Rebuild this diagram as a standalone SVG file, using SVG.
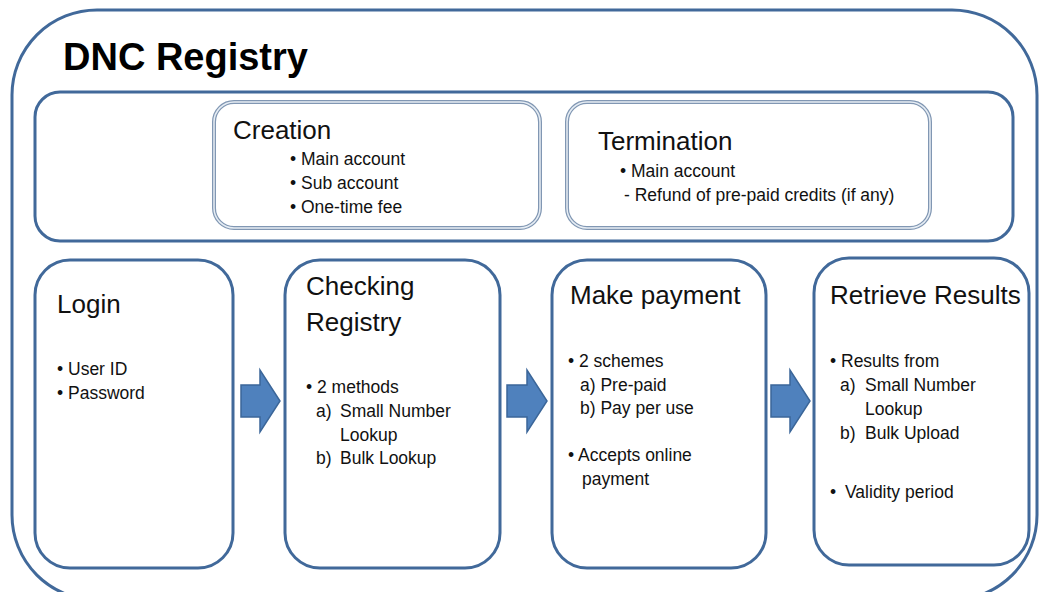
<svg xmlns="http://www.w3.org/2000/svg" width="1039" height="592" viewBox="0 0 1039 592">
<style>
.frame{fill:#fff;stroke:#41699A;stroke-width:3}
.dbl{fill:#fff;stroke:#8197B3;stroke-width:4}
.dblin{fill:none;stroke:#E6EDF4;stroke-width:1.5}
.arrow{fill:#4F81BD;stroke:#3B6699;stroke-width:1.5}
text{font-family:"Liberation Sans",Arial,sans-serif;fill:#111}
.h{font-size:26px}
.b{font-size:17.5px}
.t{font-size:38px;font-weight:bold;fill:#000}
</style>
<rect width="1039" height="592" fill="#fff"/>
<g id="outer">
<rect class="frame" x="12" y="10" width="1025" height="590" rx="85"/>
<text class="t" x="63" y="70">DNC Registry</text>
</g>
<g id="account-band">
<rect class="frame" x="35" y="92" width="978" height="149" rx="25"/>
</g>
<g id="creation">
<rect class="dbl" x="214" y="102" width="326" height="126" rx="20"/>
<rect class="dblin" x="214" y="102" width="326" height="126" rx="20"/>
<text class="h" x="233" y="139">Creation</text>
<text class="b" x="290" y="165">• Main account</text>
<text class="b" x="290" y="189">• Sub account</text>
<text class="b" x="290" y="213">• One-time fee</text>
</g>
<g id="termination">
<rect class="dbl" x="567" y="102" width="363" height="126" rx="20"/>
<rect class="dblin" x="567" y="102" width="363" height="126" rx="20"/>
<text class="h" x="598" y="150">Termination</text>
<text class="b" x="620" y="177">• Main account</text>
<text class="b" x="624" y="201">- Refund of pre-paid credits (if any)</text>
</g>
<g id="login">
<rect class="frame" x="35" y="260" width="198" height="308" rx="35"/>
<text class="h" x="57" y="313">Login</text>
<text class="b" x="57" y="375">• User ID</text>
<text class="b" x="57" y="399">• Password</text>
</g>
<g id="checking">
<rect class="frame" x="285" y="260" width="215" height="308" rx="35"/>
<text class="h" x="306" y="295">Checking</text>
<text class="h" x="306" y="331">Registry</text>
<text class="b" x="306" y="393">• 2 methods</text>
<text class="b" x="316" y="417">a)<tspan x="340">Small Number</tspan></text>
<text class="b" x="340" y="441">Lookup</text>
<text class="b" x="316" y="464">b)<tspan x="340">Bulk Lookup</tspan></text>
</g>
<g id="payment">
<rect class="frame" x="552" y="260" width="214" height="308" rx="35"/>
<text class="h" x="570" y="304">Make payment</text>
<text class="b" x="568" y="367">• 2 schemes</text>
<text class="b" x="580" y="391">a) Pre-paid</text>
<text class="b" x="580" y="414">b) Pay per use</text>
<text class="b" x="568" y="461">• Accepts online</text>
<text class="b" x="582" y="485">payment</text>
</g>
<g id="results">
<rect class="frame" x="814" y="258" width="215" height="307" rx="35"/>
<text class="h" x="830" y="304">Retrieve Results</text>
<text class="b" x="830" y="367">• Results from</text>
<text class="b" x="840" y="391">a)<tspan x="865">Small Number</tspan></text>
<text class="b" x="865" y="415">Lookup</text>
<text class="b" x="840" y="439">b)<tspan x="865">Bulk Upload</tspan></text>
<text class="b" x="830" y="498">•<tspan x="845">Validity period</tspan></text>
</g>
<g id="connectors">
<polygon class="arrow" points="241,385 260,385 260,370 280,401 260,432 260,417 241,417"/>
<polygon class="arrow" points="507,385 527,385 527,370 547,401 527,432 527,417 507,417"/>
<polygon class="arrow" points="771,385 790,385 790,370 810,401 790,432 790,417 771,417"/>
</g>
</svg>
